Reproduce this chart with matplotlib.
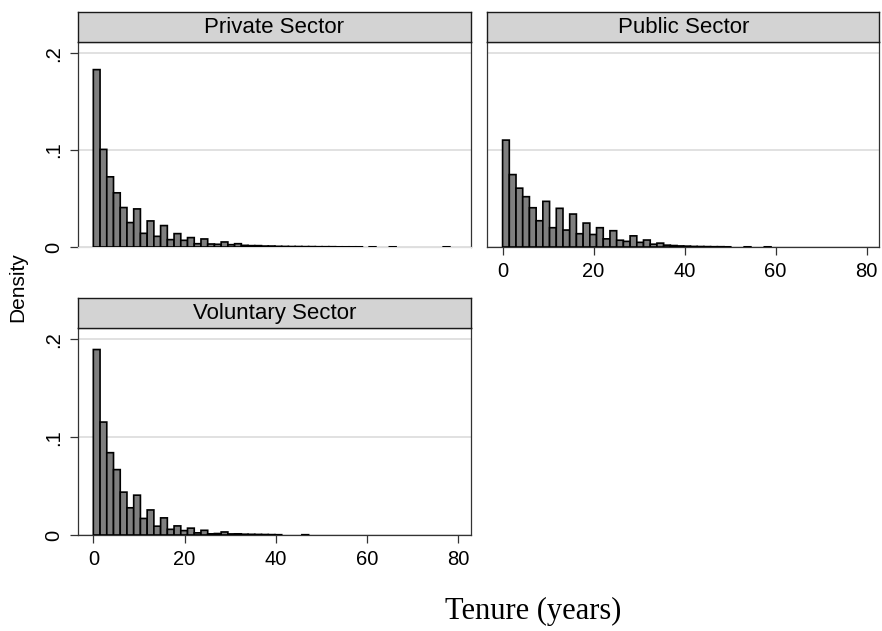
import numpy as np
import matplotlib.pyplot as plt

# Tenure histograms by sector (density per bin, common bins of width ~1.475 years)
BIN_W = 1.475

sectors = ["Private Sector", "Public Sector", "Voluntary Sector"]

private_density = [
    0.1830, 0.1007, 0.0724, 0.0559, 0.0407, 0.0252, 0.0393, 0.0141, 0.0269, 0.0110,
    0.0221, 0.0076, 0.0138, 0.0069, 0.0097, 0.0034, 0.0083, 0.0031, 0.0028, 0.0052,
    0.0024, 0.0034, 0.0017, 0.0014, 0.0014, 0.0010, 0.0010, 0.0007, 0.0006, 0.0005,
    0.0005, 0.0004, 0.0004, 0.0003, 0.0003, 0.0003, 0.0002, 0.0002, 0.0002, 0.0002,
    0.0, 0.0002, 0.0, 0.0, 0.0002, 0.0, 0.0, 0.0, 0.0, 0.0,
    0.0, 0.0, 0.0002,
]

public_density = [
    0.1103, 0.0747, 0.0607, 0.0519, 0.0405, 0.0271, 0.0471, 0.0199, 0.0399, 0.0175,
    0.0340, 0.0137, 0.0247, 0.0129, 0.0199, 0.0084, 0.0168, 0.0070, 0.0058, 0.0115,
    0.0048, 0.0072, 0.0029, 0.0040, 0.0019, 0.0015, 0.0011, 0.0009, 0.0006, 0.0005,
    0.0004, 0.0003, 0.0003, 0.0002, 0.0, 0.0, 0.0002, 0.0, 0.0, 0.0002,
]

voluntary_density = [
    0.1895, 0.1154, 0.0841, 0.0668, 0.0438, 0.0278, 0.0407, 0.0169, 0.0256, 0.0090,
    0.0175, 0.0058, 0.0093, 0.0045, 0.0070, 0.0022, 0.0048, 0.0012, 0.0015, 0.0031,
    0.0011, 0.0012, 0.0008, 0.0007, 0.0006, 0.0005, 0.0004, 0.0003, 0.0, 0.0,
    0.0, 0.0003,
]

x_ticks = [0, 20, 40, 60, 80]
y_ticks = [0, 0.1, 0.2]
y_ticklabels = ["0", ".1", ".2"]

W, H = 882, 631
BAR_COLOR = "#7f7f7f"
GRID_COLOR = "#dedede"
STRIP_COLOR = "#d3d3d3"
EDGE = "#1a1a1a"

plt.rcParams["font.family"] = ["Liberation Sans", "DejaVu Sans"]


def rect(left, top, right, bottom):
    return [left / W, 1 - bottom / H, (right - left) / W, (bottom - top) / H]


def draw_panel(fig, box, title, density, show_x, show_y):
    left, top, right, bottom = box
    ax = fig.add_axes(rect(left, top, right, bottom))
    strip = fig.add_axes(rect(left, top - 30, right, top))

    dens = np.asarray(density)
    edges = np.arange(len(dens)) * BIN_W
    keep = dens > 0
    # snap off so the near-zero tail bins still show as a thin outline
    ax.bar(edges[keep], dens[keep], width=BIN_W, align="edge",
           color=BAR_COLOR, edgecolor="black", linewidth=1.2, zorder=3,
           snap=False)

    ax.set_xlim(-3.36, 82.8)
    ax.set_ylim(0, 0.2115)
    for y in y_ticks:
        ax.axhline(y, color=GRID_COLOR, lw=1.3, zorder=1)

    for side in ["left", "right", "top", "bottom"]:
        ax.spines[side].set_color("#333333")
        ax.spines[side].set_linewidth(0.9)
    if not show_x:
        ax.spines["bottom"].set_color(GRID_COLOR)

    ax.set_yticks(y_ticks)
    ax.set_xticks(x_ticks)
    ax.tick_params(axis="both", direction="out", length=6, width=0.9,
                   color="#333333", labelsize=14.5, pad=4.5)
    if show_y:
        ax.set_yticklabels(y_ticklabels, rotation=90, va="center")
    else:
        ax.tick_params(axis="y", left=False, labelleft=False)
    if not show_x:
        ax.tick_params(axis="x", bottom=False, labelbottom=False)

    strip.set_facecolor(STRIP_COLOR)
    strip.set_xticks([])
    strip.set_yticks([])
    for side in strip.spines.values():
        side.set_color(EDGE)
        side.set_linewidth(1.0)
    strip.text(0.5, 0.48, title, ha="center", va="center", fontsize=16,
               transform=strip.transAxes)
    return ax


fig = plt.figure(figsize=(W / 100, H / 100), dpi=100)

draw_panel(fig, (78, 42, 471, 247), sectors[0], private_density, False, True)
draw_panel(fig, (487.3, 42, 879.3, 247), sectors[1], public_density, True, False)
draw_panel(fig, (78, 328, 471, 535), sectors[2], voluntary_density, True, True)

fig.text(18 / W, 1 - 287 / H, "Density", rotation=90, ha="center", va="center",
         fontsize=15)
fig.text(533 / W, 1 - 611 / H, "Tenure (years)", ha="center", va="center",
         fontsize=22, family=["Liberation Serif", "DejaVu Serif"])

fig.savefig("out.png", dpi=100, facecolor="white")
